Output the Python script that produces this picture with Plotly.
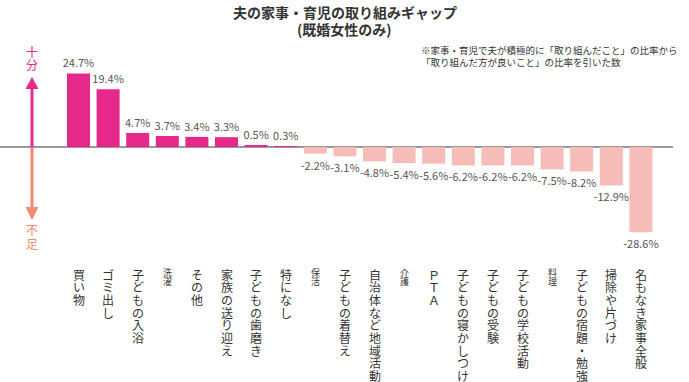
import plotly.graph_objects as go

categories = ["買い物", "ゴミ出し", "子どもの入浴", "洗濯", "その他", "家族の送り迎え",
              "子どもの歯磨き", "特になし", "保活", "子どもの着替え", "自治体など地域活動",
              "介護", "ＰＴＡ", "子どもの寝かしつけ", "子どもの受験", "子どもの学校活動",
              "料理", "子どもの宿題・勉強", "掃除や片づけ", "名もなき家事全般"]
values = [24.7, 19.4, 4.7, 3.7, 3.4, 3.3, 0.5, 0.3, -2.2, -3.1, -4.8, -5.4, -5.6,
          -6.2, -6.2, -6.2, -7.5, -8.2, -12.9, -28.6]
small_labels = ["洗濯", "保活", "介護", "料理"]

title_lines = ["夫の家事・育児の取り組みギャップ", "(既婚女性のみ)"]
note_text = "※家事・育児で夫が積極的に「取り組んだこと」の比率から<br>「取り組んだ方が良いこと」の比率を引いた数"

POS = "#e5288a"
NEG = "#f5bcb8"
W, H = 689, 382
ML, MR, MT, MB = 0, 16, 40, 122
PW, PH = W - ML - MR, H - MT - MB
FONT = "Noto Sans CJK JP"

xs = list(range(len(categories)))
colors = [POS if v >= 0 else NEG for v in values]
texts = [f"{v:.1f}%" for v in values]

fig = go.Figure(go.Bar(
    x=xs, y=values, marker=dict(color=colors, line=dict(width=0)),
    text=texts, textposition="outside", textangle=0, constraintext="none",
    cliponaxis=False,
    textfont=dict(family=FONT, size=11, color="#555555"),
    hoverinfo="skip",
))

def px_x(p):
    return (p - ML) / PW

def px_y(p):
    return (H - MB - p) / PH

shapes = []
annotations = []

# vertical category labels: characters stacked top to bottom
for i, cat in enumerate(categories):
    small = cat in small_labels
    size = 9 if small else 12
    pitch = 9 if small else 12.7
    start = 272 if small else 274
    for k, ch in enumerate(cat):
        annotations.append(dict(
            x=i, xref="x", y=px_y(start + k * pitch), yref="paper",
            text=ch, showarrow=False, xanchor="center", yanchor="middle",
            font=dict(family=FONT, size=size, color="#333333"),
        ))

# arrows on the left
ax = 32
up_col = "#e5288a"
dn_col = "#f08b6e"
shapes.append(dict(type="line", xref="paper", yref="paper",
                   x0=px_x(ax), x1=px_x(ax), y0=px_y(147), y1=px_y(88),
                   line=dict(color=up_col, width=3)))
shapes.append(dict(type="path", xref="paper", yref="paper",
                   path=f"M {px_x(ax)} {px_y(77)} L {px_x(ax-6.5)} {px_y(89)} L {px_x(ax+6.5)} {px_y(89)} Z",
                   fillcolor=up_col, line=dict(width=0)))
shapes.append(dict(type="line", xref="paper", yref="paper",
                   x0=px_x(ax), x1=px_x(ax), y0=px_y(148), y1=px_y(208),
                   line=dict(color=dn_col, width=3)))
shapes.append(dict(type="path", xref="paper", yref="paper",
                   path=f"M {px_x(ax)} {px_y(220)} L {px_x(ax-6.5)} {px_y(207)} L {px_x(ax+6.5)} {px_y(207)} Z",
                   fillcolor=dn_col, line=dict(width=0)))
for ch, yy, col in [("十", 51, up_col), ("分", 64, up_col), ("不", 229, dn_col), ("足", 243, dn_col)]:
    annotations.append(dict(x=px_x(ax), xref="paper", y=px_y(yy), yref="paper",
                            text=ch, showarrow=False, xanchor="center", yanchor="middle",
                            font=dict(family=FONT, size=12, color=col)))

# title (two lines)
for line, yy in zip(title_lines, [12, 29]):
    annotations.append(dict(x=(344.5 - ML) / PW, xref="paper", y=px_y(yy), yref="paper",
                            text=line, showarrow=False, xanchor="center", yanchor="middle",
                            font=dict(family=FONT, size=14, color="#333333", weight="bold")))

annotations.append(dict(x=px_x(419), xref="paper", y=px_y(41), yref="paper",
                        text=note_text, showarrow=False, xanchor="left", yanchor="top",
                        align="left", font=dict(family=FONT, size=9.5, color="#333333")))

fig.update_layout(
    width=W, height=H,
    margin=dict(l=ML, r=MR, t=MT, b=MB, pad=0),
    paper_bgcolor="white", plot_bgcolor="white",
    xaxis=dict(range=[-78.5 / 29.6, (PW - 78.5) / 29.6], showticklabels=False,
               showgrid=False, zeroline=False, showline=False, ticks=""),
    yaxis=dict(range=[-(H - MB - 147) / 2.98, (147 - MT) / 2.98], showticklabels=False,
               showgrid=False, zeroline=True, zerolinecolor="#999999", zerolinewidth=2,
               showline=False, ticks=""),
    bargap=0.223,
    showlegend=False,
    shapes=shapes,
    annotations=annotations,
)

fig.write_html("out.html", config={"displayModeBar": False},
               post_script="document.body.style.margin='0';document.body.style.overflow='hidden';")
